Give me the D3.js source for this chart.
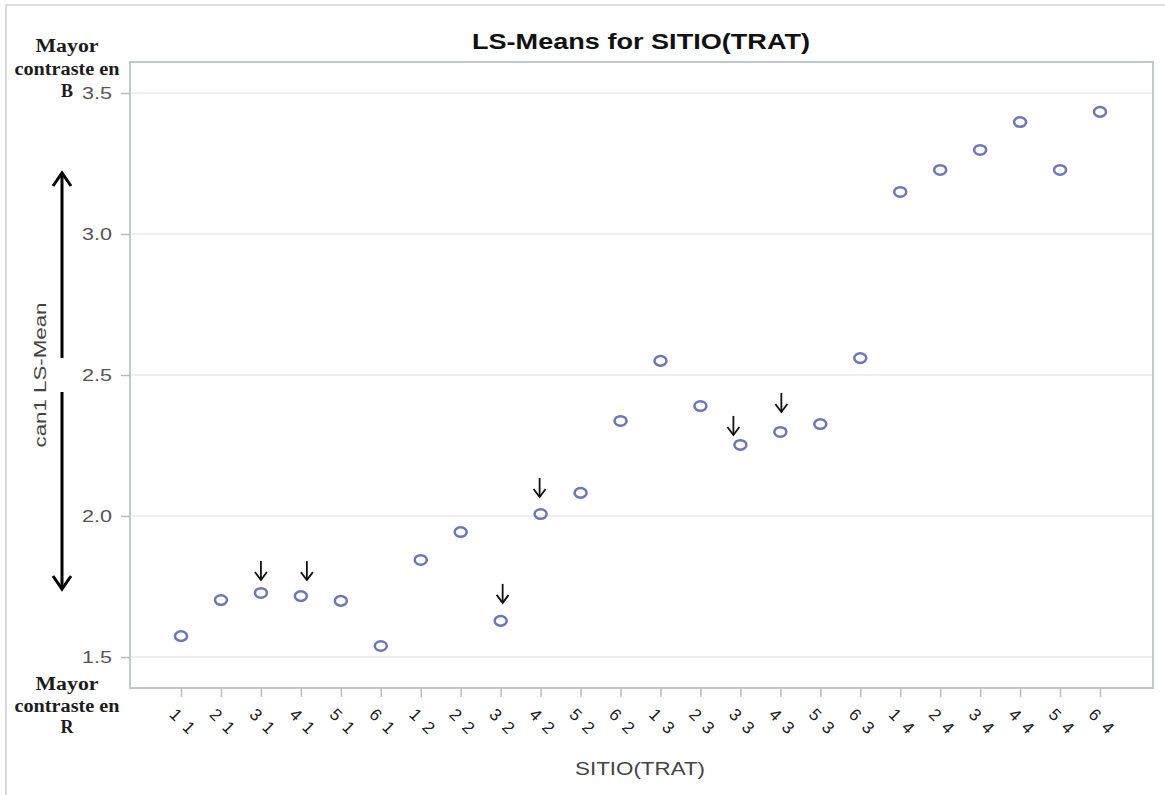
<!DOCTYPE html>
<html>
<head>
<meta charset="utf-8">
<script src="https://cdn.jsdelivr.net/npm/d3@7"></script>
<style>
  body { margin: 0; background: #fff; }
  text { font-family: "Liberation Sans", Arial, sans-serif; }
</style>
</head>
<body>
<div id="chart"></div>
<script>
// Categories: SITIO TRAT
const categories = ["1 1","2 1","3 1","4 1","5 1","6 1",
                    "1 2","2 2","3 2","4 2","5 2","6 2",
                    "1 3","2 3","3 3","4 3","5 3","6 3",
                    "1 4","2 4","3 4","4 4","5 4","6 4"];
// can1 LS-Mean values
const lsmeans = [1.574, 1.702, 1.727, 1.716, 1.699, 1.539,
                 1.844, 1.943, 1.628, 2.007, 2.082, 2.337,
                 2.550, 2.390, 2.252, 2.298, 2.326, 2.560,
                 3.149, 3.227, 3.298, 3.397, 3.227, 3.433];
const yTicks = [1.5, 2.0, 2.5, 3.0, 3.5];
// points flagged with a small arrow, [category, dx, dy] of the arrow tip
const flagged = [["3 1", 0, -13], ["4 1", 6, -16], ["3 2", 2, -18],
                 ["4 2", -1, -17], ["3 3", -7, -10], ["4 3", 1, -20]];

const W = 1165, H = 795;
const plot = { left: 130, top: 62, right: 1153, bottom: 688 };

const svg = d3.select("#chart").append("svg")
    .attr("width", W)
    .attr("height", H);

// outer frame lines (top and left only visible)
svg.append("line").attr("x1", 5).attr("x2", W).attr("y1", 5).attr("y2", 5)
    .attr("stroke", "#dcdcdc").attr("stroke-width", 2);
svg.append("line").attr("x1", 6).attr("x2", 6).attr("y1", 5).attr("y2", H)
    .attr("stroke", "#dcdcdc").attr("stroke-width", 2);

const x = d3.scalePoint().domain(categories).range([181, 1100]);
const y = d3.scaleLinear().domain([1.5, 3.5]).range([657, 93]);

// gridlines
svg.append("g")
  .selectAll("line")
  .data(yTicks)
  .join("line")
    .attr("x1", plot.left).attr("x2", plot.right)
    .attr("y1", d => y(d)).attr("y2", d => y(d))
    .attr("stroke", "#ebebeb").attr("stroke-width", 1.5);

// plot frame
svg.append("rect")
    .attr("x", plot.left).attr("y", plot.top)
    .attr("width", plot.right - plot.left).attr("height", plot.bottom - plot.top)
    .attr("fill", "none").attr("stroke", "#c4c8cc").attr("stroke-width", 2);

// y axis
const yAxis = svg.append("g")
    .attr("transform", `translate(${plot.left},0)`)
    .call(d3.axisLeft(y).tickValues(yTicks).tickFormat(d3.format(".1f")).tickSize(9).tickPadding(9));
yAxis.select(".domain").remove();
yAxis.selectAll(".tick line").attr("stroke", "#b8bcc0").attr("stroke-width", 1.5);
yAxis.selectAll(".tick text")
    .attr("fill", "#555").attr("font-size", 17)
    .attr("textLength", 30).attr("lengthAdjust", "spacingAndGlyphs");

// x axis
const xAxis = svg.append("g")
    .attr("transform", `translate(0,${plot.bottom})`)
    .call(d3.axisBottom(x).tickSize(9));
xAxis.select(".domain").remove();
xAxis.selectAll(".tick line").attr("stroke", "#b8bcc0").attr("stroke-width", 1.5);
xAxis.selectAll(".tick text")
    .attr("y", null).attr("dy", null)
    .attr("transform", "translate(0,34) rotate(45)")
    .attr("text-anchor", "middle")
    .attr("dominant-baseline", "middle")
    .attr("fill", "#222").attr("font-size", 17)
    .style("word-spacing", "4px");

// points
svg.append("g")
  .selectAll("ellipse")
  .data(categories)
  .join("ellipse")
    .attr("cx", d => x(d))
    .attr("cy", (d, i) => y(lsmeans[i]))
    .attr("rx", 6).attr("ry", 4.8)
    .attr("fill", "none")
    .attr("stroke", "#6b77b6")
    .attr("stroke-width", 2.5);

// small flag arrows
const flag = svg.append("g").attr("stroke", "#111").attr("stroke-width", 1.8).attr("fill", "none");
flagged.forEach(([c, dx, dy]) => {
  const i = categories.indexOf(c);
  const tx = x(c) + dx, ty = y(lsmeans[i]) + dy;
  flag.append("line").attr("x1", tx).attr("x2", tx).attr("y1", ty - 19).attr("y2", ty);
  flag.append("path").attr("d", `M${tx - 6},${ty - 8}L${tx},${ty}L${tx + 6},${ty - 8}`);
});

// big double arrow
const big = svg.append("g").attr("stroke", "#000").attr("stroke-width", 3).attr("fill", "none");
big.append("line").attr("x1", 62).attr("x2", 62).attr("y1", 358).attr("y2", 173);
big.append("path").attr("d", "M53,186L62,173L71,186");
big.append("line").attr("x1", 62).attr("x2", 62).attr("y1", 392).attr("y2", 589);
big.append("path").attr("d", "M53,576L62,589L71,576");

// title
svg.append("text")
    .attr("x", 641).attr("y", 49)
    .attr("text-anchor", "middle")
    .attr("font-size", 22).attr("font-weight", "bold").attr("fill", "#111")
    .attr("textLength", 338).attr("lengthAdjust", "spacingAndGlyphs")
    .text("LS-Means for SITIO(TRAT)");

// axis labels
svg.append("text")
    .attr("transform", "translate(46,375) rotate(-90)")
    .attr("text-anchor", "middle")
    .attr("font-size", 17).attr("fill", "#444")
    .attr("textLength", 145).attr("lengthAdjust", "spacingAndGlyphs")
    .text("can1 LS-Mean");

svg.append("text")
    .attr("x", 640).attr("y", 775)
    .attr("text-anchor", "middle")
    .attr("font-size", 18).attr("fill", "#444")
    .attr("textLength", 130).attr("lengthAdjust", "spacingAndGlyphs")
    .text("SITIO(TRAT)");

// side notes
const notes = [
  { t: "Mayor", y: 52, len: 63 }, { t: "contraste en", y: 75, len: 105 }, { t: "B", y: 97, len: null },
  { t: "Mayor", y: 690, len: 63 }, { t: "contraste en", y: 712, len: 105 }, { t: "R", y: 733, len: null }
];
notes.forEach(n => {
  const t = svg.append("text")
      .attr("x", 67).attr("y", n.y)
      .attr("text-anchor", "middle")
      .style("font-family", "'Liberation Serif', 'Times New Roman', serif")
      .attr("font-size", 18).attr("font-weight", "bold").attr("fill", "#1c1c1c")
      .text(n.t);
  if (n.len) t.attr("textLength", n.len).attr("lengthAdjust", "spacingAndGlyphs");
});
</script>
</body>
</html>
